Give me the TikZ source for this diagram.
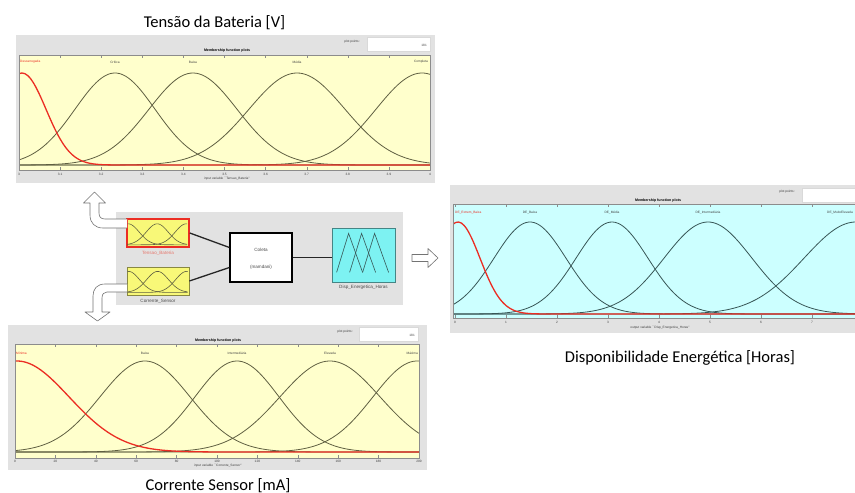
\documentclass[tikz,border=0pt]{standalone}
\usepackage{fontspec}
\setmainfont{Carlito}
\newfontfamily\plotsans{Liberation Sans}
\usetikzlibrary{calc}

\definecolor{panelgray}{RGB}{226,226,226}
\definecolor{mfyellow}{RGB}{255,255,204}
\definecolor{mfcyan}{RGB}{204,255,255}
\definecolor{boxyellow}{RGB}{248,248,120}
\definecolor{boxcyan}{RGB}{125,242,242}
\definecolor{mfdark}{RGB}{95,95,65}
\definecolor{mfteal}{RGB}{55,85,85}
\definecolor{mfred}{RGB}{235,45,35}
\definecolor{labred}{RGB}{230,120,110}

\tikzset{
  title/.style={font=\fontsize{16.5}{19}\selectfont, anchor=base, inner sep=0pt},
  tiny/.style={font=\plotsans\fontsize{3.2}{4}\selectfont, inner sep=0pt, text=black!75},
  tinyhead/.style={font=\plotsans\bfseries\fontsize{3.6}{4}\selectfont, inner sep=0pt},
  ptbox/.style={fill=white, draw=black!15, line width=0.3pt, inner sep=0pt},
  axisline/.style={draw=black!45, line width=0.4pt},
  mfline/.style={draw=mfdark, line width=0.8pt},
  mflinec/.style={draw=mfteal, line width=0.8pt},
  mfsel/.style={draw=mfred, line width=1.3pt},
  inbox/.style={draw=black!45!boxyellow, fill=boxyellow, line width=0.8pt,
    minimum width=62pt, minimum height=28pt, inner sep=0pt},
  rulebox/.style={draw=black, fill=white, line width=1.2pt,
    minimum width=62pt, minimum height=49pt, inner sep=0pt},
  outbox/.style={draw=black!45!boxcyan, fill=boxcyan, line width=0.8pt,
    minimum width=63pt, minimum height=54pt, inner sep=0pt},
  fislabel/.style={font=\plotsans\fontsize{4.6}{5}\selectfont, inner sep=0pt, text=black!70},
  link/.style={draw=black!85, line width=1.3pt},
  blockarrow/.style={draw=black!55, fill=white, line width=0.6pt, line join=round}
}

\begin{document}
\begin{tikzpicture}[x=1pt, y=-1pt,
  declare function={gss(\t,\c,\s)=exp(-0.5*((\t-\c)/\s)*((\t-\c)/\s));}]
\useasboundingbox (0,0) rectangle (855,493);
\clip (0,0) rectangle (855,493);

% Tensao da Bateria
\node[title] (tTitle) at (214.5,27) {Tensão da Bateria [V]};
\fill[panelgray] (16,35) rectangle (435,183);
\node[tiny] (tPts) at (352,42) {plot points:};
\node[ptbox, minimum width=63pt, minimum height=14pt] (tBox) at (398.5,44) {};
\node[tiny, anchor=east] (tNum) at (427,45) {181};
\node[tinyhead] (tHead) at (227,51) {Membership function plots};
\fill[mfyellow] (19,55) rectangle (430,170);
\begin{scope}
  \clip (19,55) rectangle (430,170);
  \foreach \c/\s in {115/40,193/44,297/48,422/46}
    \draw[mfline] plot[domain=19:430, samples=140, smooth] (\x,{165-92*gss(\x,\c,\s)});
  \draw[mfsel] plot[domain=19:430, samples=140, smooth] (\x,{165-92*gss(\x,22,24)});
\end{scope}
\draw[axisline] (19,55) rectangle (430,170);
\foreach \v [count=\i from 0] in {3,3.1,3.2,3.3,3.4,3.5,3.6,3.7,3.8,3.9,4} {
  \draw[axisline] ({19+41.1*\i},55) -- ++(0,3);
  \draw[axisline] ({19+41.1*\i},170) -- ++(0,-3);
  \node[tiny] (tTick\i) at ({19+41.1*\i},174) {\v};
}
\node[tiny] (tAxis) at (227,179) {input variable ``Tensao\_Bateria''};
\node[tiny, text=mfred, anchor=west] (tMf1) at (20,62) {Descarregada};
\node[tiny] (tMf2) at (115,62) {Crítica};
\node[tiny] (tMf3) at (193,62) {Baixa};
\node[tiny] (tMf4) at (297,62) {Média};
\node[tiny, anchor=east] (tMf5) at (428,62) {Completa};

% Corrente Sensor
\fill[panelgray] (8,325) rectangle (427,470);
\node[tiny] (cPts) at (345,332) {plot points:};
\node[ptbox, minimum width=59pt, minimum height=14pt] (cBox) at (388.5,334) {};
\node[tiny, anchor=east] (cNum) at (415,335) {181};
\node[tinyhead] (cHead) at (218,341) {Membership function plots};
\fill[mfyellow] (15,344) rectangle (419,458);
\begin{scope}
  \clip (15,344) rectangle (419,458);
  \foreach \c/\s in {145/45,237/42,330/50,417/44}
    \draw[mfline] plot[domain=15:419, samples=140, smooth] (\x,{452-91*gss(\x,\c,\s)});
  \draw[mfsel] plot[domain=15:419, samples=140, smooth] (\x,{452-91*gss(\x,17,52)});
\end{scope}
\draw[axisline] (15,344) rectangle (419,458);
\foreach \v [count=\i from 0] in {0,20,40,60,80,100,120,140,160,180,200} {
  \draw[axisline] ({15+40.4*\i},344) -- ++(0,3);
  \draw[axisline] ({15+40.4*\i},458) -- ++(0,-3);
  \node[tiny] (cTick\i) at ({15+40.4*\i},461.5) {\v};
}
\node[tiny] (cAxis) at (218,466) {input variable ``Corrente\_Sensor''};
\node[tiny, text=mfred, anchor=west] (cMf1) at (16,353) {Mínima};
\node[tiny] (cMf2) at (145,353) {Baixa};
\node[tiny] (cMf3) at (237,353) {Intermediária};
\node[tiny] (cMf4) at (330,353) {Elevada};
\node[tiny, anchor=east] (cMf5) at (418,353) {Máxima};
\node[title] (cTitle) at (218,490) {Corrente Sensor [mA]};

% Disponibilidade Energetica
\fill[panelgray] (450,185) rectangle (870,333);
\node[tiny] (dPts) at (787,192) {plot points:};
\node[ptbox, minimum width=68pt, minimum height=14pt] (dBox) at (836,195) {};
\node[tinyhead] (dHead) at (658,201) {Membership function plots};
\fill[mfcyan] (453,204) rectangle (870,318);
\begin{scope}
  \clip (453,204) rectangle (870,318);
  \foreach \c/\s in {530/36,612/36,708/44,856/52}
    \draw[mflinec] plot[domain=453:870, samples=150, smooth] (\x,{314-92*gss(\x,\c,\s)});
  \draw[mfsel] plot[domain=453:870, samples=150, smooth] (\x,{314-92*gss(\x,458,22)});
\end{scope}
\draw[axisline] (453,204) rectangle (870,318);
\foreach \v [count=\i from 0] in {0,1,2,3,4,5,6,7} {
  \draw[axisline] ({455+51*\i},204) -- ++(0,3);
  \draw[axisline] ({455+51*\i},318) -- ++(0,-3);
  \node[tiny] (dTick\i) at ({455+51*\i},322) {\v};
}
\node[tiny] (dAxis) at (660,328) {output variable ``Disp\_Energetica\_Horas''};
\node[tiny, text=mfred, anchor=west] (dMf1) at (455,213) {DE\_Extrem\_Baixa};
\node[tiny] (dMf2) at (530,213) {DE\_Baixa};
\node[tiny] (dMf3) at (612,213) {DE\_Média};
\node[tiny] (dMf4) at (708,213) {DE\_Intermediária};
\node[tiny, anchor=east] (dMf5) at (853,213) {DE\_MuitoElevada};
\node[title] (dTitle) at (680,362) {Disponibilidade Energética [Horas]};

% FIS editor
\fill[panelgray] (116,212) rectangle (403,305);
\node[inbox, draw=mfred, line width=1.6pt] (tb) at (158,233) {};
\node[inbox] (cs) at (158,281) {};
\node[rulebox] (rule) at (261,257.5) {};
\node[outbox] (out) at (363.5,255) {};
\foreach \b in {tb,cs} {
  \begin{scope}[shift={(\b.south west)}]
    \clip (0,0) rectangle (62,-28);
    \foreach \c in {2,31,60}
      \draw[mfline, line width=0.6pt] plot[domain=1:61, samples=40, smooth] (\x,{-3-21*gss(\x,\c,11)});
  \end{scope}
}
\begin{scope}[shift={(out.south west)}]
  \foreach \a in {5,18,31}
    \draw[mflinec, line width=0.6pt] (\a,-10) -- ++(12,-39) -- ++(14,39);
\end{scope}
\node[fislabel, text=labred] (tbLabel) at (158,253) {Tensao\_Bateria};
\node[fislabel] (csLabel) at (158,301) {Corrente\_Sensor};
\node[fislabel] (outLabel) at (363.5,287) {Disp\_Energetica\_Horas};
\node[fislabel] (ruleName) at (261,250) {Coleta};
\node[fislabel] (ruleType) at (261,267) {(mamdani)};
\draw[link] (tb.east) -- ($(rule.west)+(0,-10)$);
\draw[link] (cs.east) -- ($(rule.west)+(0,10)$);
\draw[link] (rule.east) -- (rule.east -| out.west);

% block arrows
\draw[blockarrow] (127,228) -- (103,228) .. controls (95,228) and (90,223) .. (90,215)
  -- (90,203) -- (83.5,203) -- (94.5,192) -- (105.5,203) -- (99,203) -- (99,213)
  .. controls (99,217) and (101,219) .. (105,219) -- (127,219);
\draw[blockarrow] (127,284) -- (105,284) .. controls (97,284) and (93,289) .. (93,296)
  -- (93,312) -- (85,312) -- (97.5,321) -- (110,312) -- (102,312) -- (102,298)
  .. controls (102,294) and (104,292) .. (107,292) -- (127,292);
\draw[blockarrow] (412,254.5) -- (428,254.5) -- (428,248.5) -- (438,258) -- (428,267.5)
  -- (428,261.5) -- (412,261.5) -- cycle;
\end{tikzpicture}
\end{document}
